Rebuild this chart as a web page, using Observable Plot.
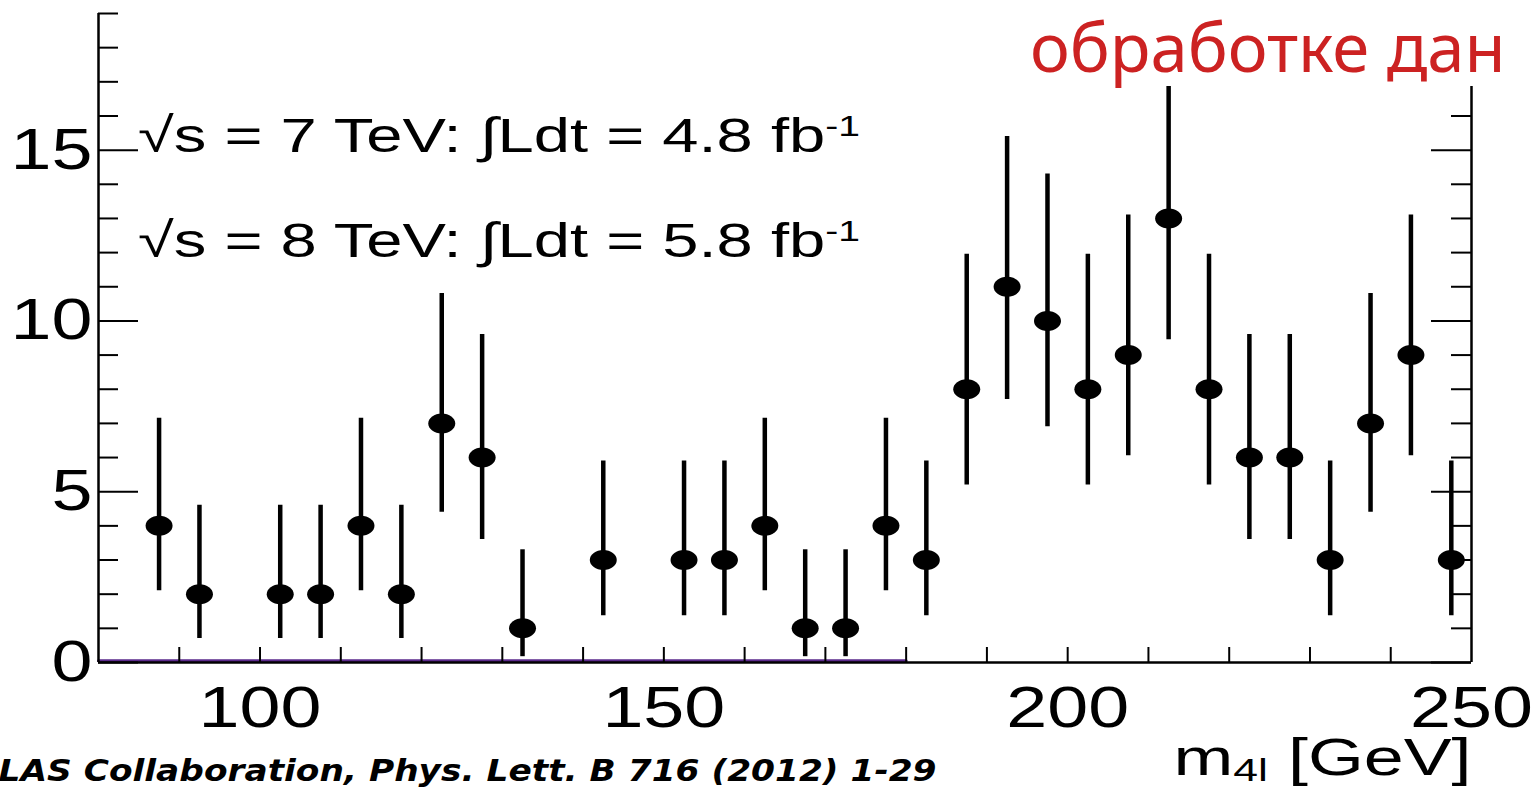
<!DOCTYPE html>
<html>
<head>
<meta charset="utf-8">
<script src="https://cdn.jsdelivr.net/npm/d3@7"></script>
<script src="https://cdn.jsdelivr.net/npm/@observablehq/plot@0.6"></script>
<style>
  html, body { margin: 0; padding: 0; background: #fff; overflow: hidden; }
  #wrap { position: relative; width: 1536px; height: 791px; overflow: hidden; }
  #cover { position: absolute; left: 1022px; top: 0; width: 514px; height: 86px; background: #fff; }
  #header {
    position: absolute; left: 1030px; top: 0; color: #cc2222; display: block;
    font-family: "Noto Sans", sans-serif; font-size: 67px; line-height: normal; white-space: nowrap;
  }
</style>
</head>
<body>
<div id="wrap"><div id="cover"></div><div id="header"></div></div>
<script>
// ---- data ----
const binCenters = [87.5, 92.5, 97.5, 102.5, 107.5, 112.5, 117.5, 122.5, 127.5, 132.5, 137.5, 142.5, 147.5, 152.5, 157.5, 162.5, 167.5, 172.5, 177.5, 182.5, 187.5, 192.5, 197.5, 202.5, 207.5, 212.5, 217.5, 222.5, 227.5, 232.5, 237.5, 242.5, 247.5];
const counts     = [4, 2, 0, 2, 2, 4, 2, 7, 6, 1, 0, 3, 0, 3, 3, 4, 1, 1, 4, 3, 8, 11, 10, 8, 9, 13, 8, 6, 6, 3, 7, 9, 3];
const errLow     = [2.1, 0.7, 0, 0.7, 0.7, 2.1, 0.7, 4.4, 3.6, 0.17, 0, 1.37, 0, 1.37, 1.37, 2.1, 0.17, 0.17, 2.1, 1.37, 5.2, 7.7, 6.9, 5.2, 6.05, 9.45, 5.2, 3.6, 3.6, 1.37, 4.4, 6.05, 1.37];
const errHigh    = [7.15, 4.6, 0, 4.6, 4.6, 7.15, 4.6, 10.8, 9.6, 3.3, 0, 5.9, 0, 5.9, 5.9, 7.15, 3.3, 3.3, 7.15, 5.9, 11.95, 15.4, 14.3, 11.95, 13.1, 16.9, 11.95, 9.6, 9.6, 5.9, 10.8, 13.1, 5.9];
const bgMass  = [80, 180];
const bgLevel = [0.05, 0.05];
const xDomain = [80, 250];
const yDomain = [0, 19];
const xTickValues  = [90, 100, 110, 120, 130, 140, 150, 160, 170, 180, 190, 200, 210, 220, 230, 240];
const xTickLabels  = [100, 150, 200, 250];
const yTickValues  = [0, 1, 2, 3, 4, 5, 6, 7, 8, 9, 10, 11, 12, 13, 14, 15, 16, 17, 18, 19];
const yTickLabels  = [0, 5, 10, 15];
const legendEnergies = ["7", "8"];
const legendLumis    = ["4.8", "5.8"];
const axisTitle  = "m4l [GeV]";
const caption    = "LAS Collaboration, Phys. Lett. B 716 (2012) 1-29";
const headerText = "обработке дан";

// ---- build tables ----
const points = binCenters.map((m, i) => ({m, n: counts[i], lo: errLow[i], hi: errHigh[i]})).filter(d => d.n > 0);
const bg = bgMass.map((m, i) => ({m, v: bgLevel[i]}));
const yMajor = yTickValues.filter(d => d % 5 === 0);
const yMinor = yTickValues.filter(d => d % 5 !== 0);

const W = 1536, H = 791, ML = 98, MR = 65, MT = 13, MB = 129;
const FW = W - ML - MR, FH = H - MT - MB;

const ellipse = {
  draw(ctx, size) {
    const r = Math.sqrt(size / Math.PI);
    const rx = r * 1.35, ry = r, k = 0.5523;
    ctx.moveTo(rx, 0);
    ctx.bezierCurveTo(rx, ry * k, rx * k, ry, 0, ry);
    ctx.bezierCurveTo(-rx * k, ry, -rx, ry * k, -rx, 0);
    ctx.bezierCurveTo(-rx, -ry * k, -rx * k, -ry, 0, -ry);
    ctx.bezierCurveTo(rx * k, -ry, rx, -ry * k, rx, 0);
    ctx.closePath();
  }
};

const plot = Plot.plot({
  width: W, height: H,
  marginLeft: ML, marginRight: MR, marginTop: MT, marginBottom: MB,
  x: {domain: xDomain, axis: null},
  y: {domain: yDomain, axis: null},
  style: {background: "white", fontFamily: "'Liberation Sans', Arial, sans-serif", overflow: "hidden"},
  marks: [
    Plot.line(bg, {x: "m", y: "v", stroke: "#5b2a8c", strokeWidth: 3}),
    Plot.ruleX([xDomain[0]], {stroke: "black", strokeWidth: 2.5}),
    Plot.ruleX([xDomain[1]], {stroke: "black", strokeWidth: 2.5}),
    Plot.ruleY([yDomain[0]], {stroke: "black", strokeWidth: 2.5}),
    Plot.tickX(xTickValues, {x: d => d, insetTop: FH - 15, stroke: "black", strokeWidth: 2}),
    Plot.tickY(yMinor, {y: d => d, insetRight: FW - 20, stroke: "black", strokeWidth: 2}),
    Plot.tickY(yMajor, {y: d => d, insetRight: FW - 40, stroke: "black", strokeWidth: 2}),
    Plot.tickY(yMinor, {y: d => d, insetLeft: FW - 20, stroke: "black", strokeWidth: 2}),
    Plot.tickY(yMajor, {y: d => d, insetLeft: FW - 40, stroke: "black", strokeWidth: 2}),
    Plot.ruleX(points, {x: "m", y1: "lo", y2: "hi", stroke: "black", strokeWidth: 4.5}),
    Plot.dot(points, {x: "m", y: "n", r: 10, symbol: ellipse, fill: "black", stroke: "none"}),
    Plot.text(yTickLabels, {y: d => d, text: d => String(d), frameAnchor: "left", dx: -6, textAnchor: "end", lineAnchor: "middle", fontSize: 58, fill: "black", ariaDescription: "ylab"}),
    Plot.text(xTickLabels, {x: d => d, text: d => String(d), frameAnchor: "bottom", dy: 46, lineAnchor: "middle", fontSize: 58, fill: "black", ariaDescription: "xlab"}),
    Plot.text(legendEnergies, {text: (d, i) => `√s = ${d} TeV: ∫Ldt = ${legendLumis[i]} fb-1`, frameAnchor: "top-left", textAnchor: "start", lineAnchor: "middle", fontSize: 49, fill: "black", ariaDescription: "legend"}),
    Plot.text([axisTitle], {text: d => d, frameAnchor: "bottom-right", dy: 96, textAnchor: "end", lineAnchor: "middle", fontSize: 52, fill: "black", ariaDescription: "xtitle"}),
    Plot.text([caption], {text: d => d, frameAnchor: "bottom-left", dx: -100, dy: 109, textAnchor: "start", lineAnchor: "middle", fontSize: 30, fontWeight: "bold", fontStyle: "italic", fill: "black", ariaDescription: "caption"})
  ]
});

const wrap = document.getElementById("wrap");
wrap.insertBefore(plot, wrap.firstChild);
document.getElementById("header").textContent = headerText;

const svg = d3.select(plot);
const stretchX = 1.27;
// tick labels: widen horizontally like the reference
svg.selectAll('g[aria-description="ylab"] text, g[aria-description="xlab"] text').each(function () {
  const w = this.getComputedTextLength();
  d3.select(this).attr("textLength", w * stretchX).attr("lengthAdjust", "spacingAndGlyphs");
});
// legend lines with superscript, positioned explicitly (baselines)
const legendLeft = 138, legendBaselines = [152, 257];
svg.selectAll('g[aria-description="legend"]').attr("transform", null);
svg.selectAll('g[aria-description="legend"] text').each(function (d, i) {
  const t = d3.select(this);
  const e = legendEnergies[i], l = legendLumis[i];
  t.attr("transform", `translate(${legendLeft},${legendBaselines[i]})`).attr("x", null).attr("y", null).attr("dy", null);
  t.text(null);
  t.append("tspan").text("√s");
  t.append("tspan").text(` = ${e} TeV: ∫Ldt = ${l} fb`);
  t.append("tspan").attr("baseline-shift", "super").attr("font-size", "60%").text("-1");
  t.attr("textLength", 722).attr("lengthAdjust", "spacingAndGlyphs");
});
svg.selectAll('g[aria-description="xtitle"] text').each(function () {
  const t = d3.select(this);
  t.text(null);
  t.append("tspan").text("m");
  t.append("tspan").attr("baseline-shift", "-0.2em").attr("font-size", "62%").text("4l");
  t.append("tspan").text(" [GeV]");
  t.attr("textLength", 298).attr("lengthAdjust", "spacingAndGlyphs");
});
svg.selectAll('g[aria-description="caption"] text').each(function () {
  d3.select(this).attr("font-family", "'DejaVu Sans', sans-serif").attr("textLength", 938).attr("lengthAdjust", "spacingAndGlyphs");
});
</script>
</body>
</html>
